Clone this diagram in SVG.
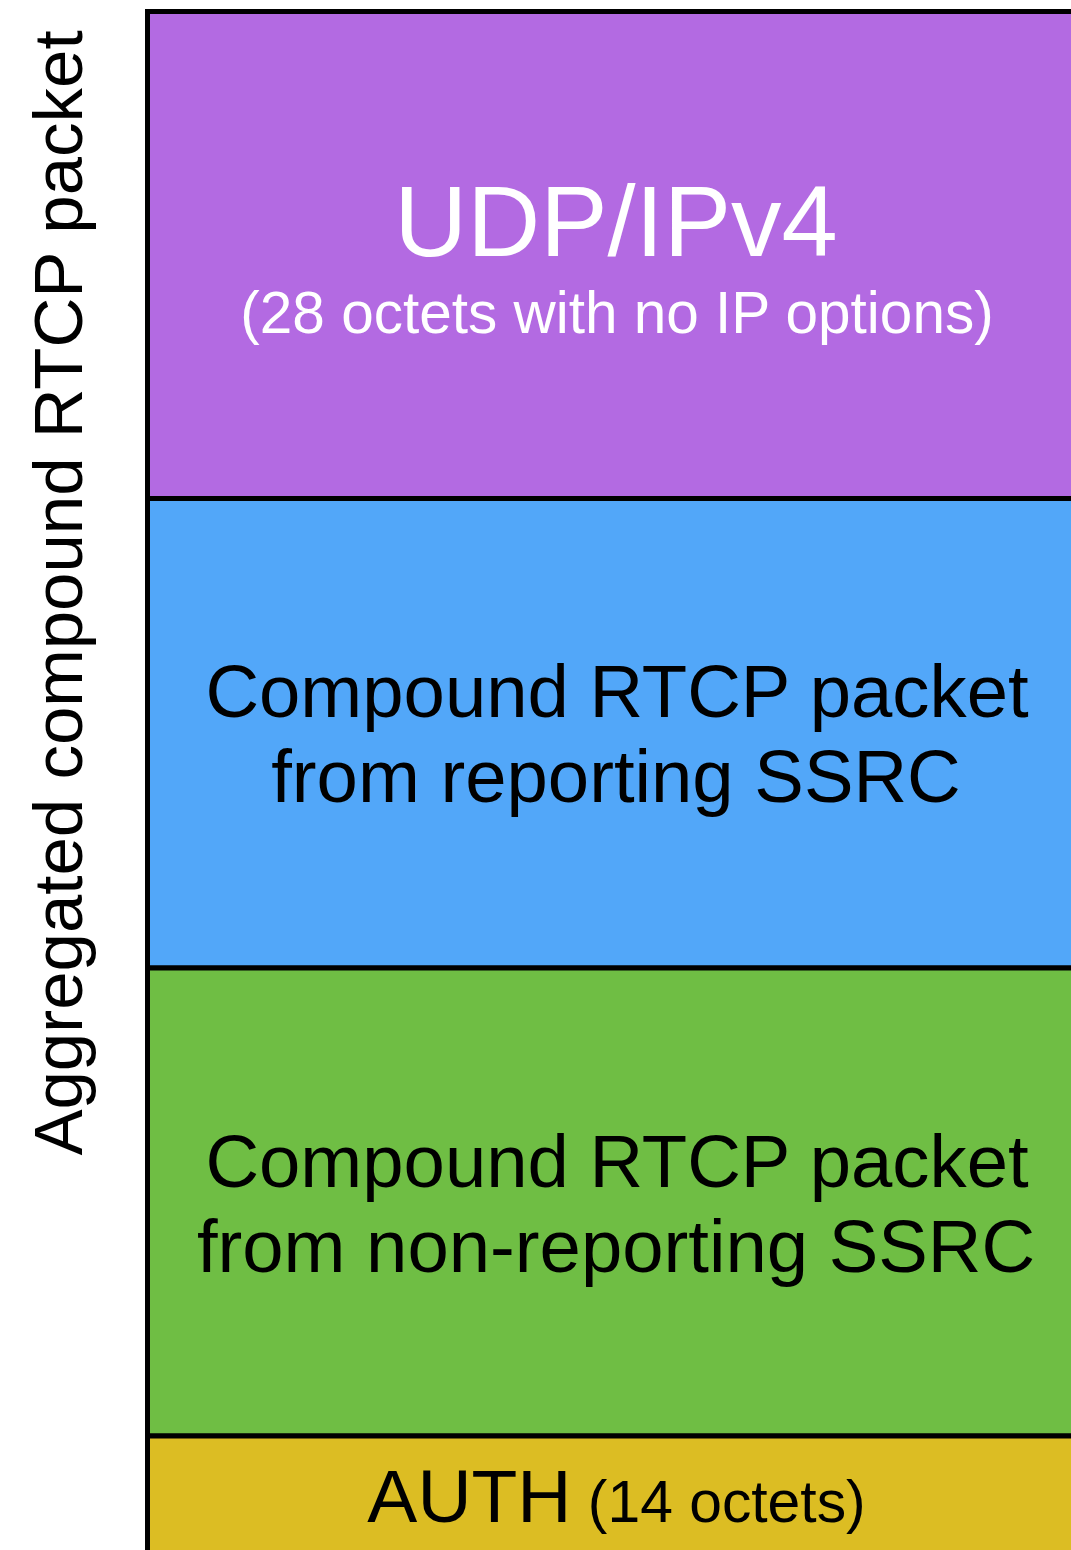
<svg xmlns="http://www.w3.org/2000/svg" width="1071" height="1550" viewBox="0 0 1071 1550">
  <style>
    .layer { stroke: #000; stroke-width: 5; }
    .t { font-family: "Liberation Sans", Arial, sans-serif; text-anchor: middle; }
    .big { font-size: 74.3px; fill: #000; }
    .small { font-size: 58.5px; }
  </style>
  <rect width="1071" height="1550" fill="#fff"/>

  <!-- side label spanning the whole stack -->
  <text class="t" font-size="69" fill="#000" transform="translate(82 593) rotate(-90)">Aggregated compound RTCP packet</text>

  <g id="udp-ipv4">
    <rect class="layer" x="147.5" y="11.5" width="960" height="487" fill="#B36AE2"/>
    <text class="t" x="616" y="256" font-size="101" fill="#fff">UDP/IPv4</text>
    <text class="t small" x="617" y="333" fill="#fff">(28 octets with no IP options)</text>
  </g>

  <g id="reporting">
    <rect class="layer" x="147.5" y="498.5" width="960" height="469.5" fill="#52A7F9"/>
    <text class="t big" x="617" y="717">Compound RTCP packet</text>
    <text class="t big" x="616" y="802">from reporting SSRC</text>
  </g>

  <g id="non-reporting">
    <rect class="layer" x="147.5" y="968" width="960" height="468" fill="#6FBE44"/>
    <text class="t big" x="617" y="1187">Compound RTCP packet</text>
    <text class="t big" x="616" y="1272" font-size="75.3">from non-reporting SSRC</text>
  </g>

  <g id="auth">
    <rect class="layer" x="147.5" y="1436" width="960" height="200" fill="#DCBD23"/>
    <text class="t" x="616.5" y="1522" fill="#000"><tspan font-size="75">AUTH</tspan><tspan font-size="58.8"> (14 octets)</tspan></text>
  </g>

  <g id="connectors"/>
</svg>
